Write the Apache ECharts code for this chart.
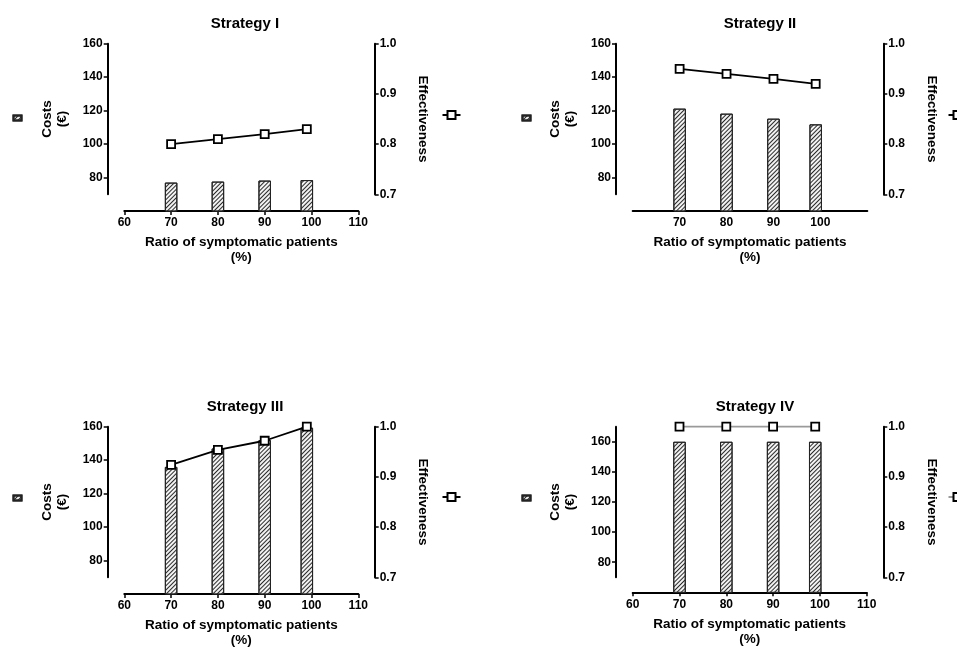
<!DOCTYPE html>
<html><head><meta charset="utf-8">
<script src="https://cdn.jsdelivr.net/npm/echarts@6/dist/echarts.min.js"></script>
<style>html,body{margin:0;padding:0;background:#fff}#c{width:957px;height:650px}</style>
</head><body><div id="c"></div>
<script>
// ---- data ----
const xPositions = [70, 80, 90, 99];
const xTickLabels = [60, 70, 80, 90, 100, 110];
const xTickLabelsII = [70, 80, 90, 100];
const costTickLabels = [80, 100, 120, 140, 160];
const titles = ['Strategy I', 'Strategy II', 'Strategy III', 'Strategy IV'];
const romans = ['I', 'II', 'III', 'IV'];
const costsI = [77, 77.6, 78.2, 78.5];
const costsII = [121.2, 118.2, 115.2, 111.8];
const costsIII = [136, 147, 152, 159.4];
const costsIV = [160, 160, 160, 160];
const effI = [0.80, 0.81, 0.82, 0.83];
const effII = [0.95, 0.94, 0.93, 0.92];
const effIII = [0.924, 0.954, 0.972, 1.0];
const effIV = [1.0, 1.0, 1.0, 1.0];
const xAxisTitle = 'Ratio of symptomatic patients\n(%)';
const costAxisTitle = 'Costs\n(\u20ac)';
const effAxisTitle = 'Effectiveness';

// ---- layout ----
const FONT = '"Liberation Sans", Arial, sans-serif';
const layouts = [
  {x0:124.3, x1:358.3, top:43.7, axBottom:194.3, leftX:107.7, rightX:374.7, cMax:160, xLabels:xTickLabels, xTicks:true, titleX:240, titleY:11, legL:[12.5,114.5], legR:[441.5,110]},
  {x0:632.7, x1:867.3, top:43.7, axBottom:194.3, leftX:616, rightX:883.3, cMax:160, xLabels:xTickLabelsII, xTicks:false, titleX:755, titleY:11, legL:[521.5,114.5], legR:[947.5,110]},
  {x0:124.3, x1:358.3, top:426.7, axBottom:577.3, leftX:107.7, rightX:374.7, cMax:160, xLabels:xTickLabels, xTicks:true, titleX:240, titleY:394, legL:[12.5,494.5], legR:[441.5,492]},
  {x0:632.7, x1:866.7, top:426.7, axBottom:577.3, leftX:616, rightX:883.3, cMax:170, xLabels:xTickLabels, xTicks:true, titleX:750, titleY:394, legL:[521.5,494.5], legR:[947.5,492]}
];
const costSets = [costsI, costsII, costsIII, costsIV];
const effSets = [effI, effII, effIII, effIV];
const lineColors = ['#000', '#000', '#000', '#9a9a9a'];

const lblStyle = {color:'#000', fontFamily:FONT, fontWeight:'bold', fontSize:12};
const nameStyle = {color:'#000', fontFamily:FONT, fontWeight:'bold', fontSize:13.5, lineHeight:15};
const axLine = {show:true, lineStyle:{color:'#000', width:2}};
const tickStyle = {color:'#000', width:1.5};
const hatch = {symbol:'rect', symbolSize:1, dashArrayX:[1,0], dashArrayY:[1,2], rotation:-Math.PI/4, color:'#2a2a2a'};

const grids = [], xAxes = [], yAxes = [], series = [], legends = [], titleComps = [];
layouts.forEach((L, i) => {
  const gA = i*2, gB = i*2+1;
  const w = L.x1 - L.x0;
  const hB = L.axBottom - L.top;
  const hA = hB * (L.cMax - 60) / (L.cMax - 70);
  grids.push({left:L.x0, top:L.top, width:w, height:hA});
  grids.push({left:L.x0, top:L.top, width:w, height:hB});
  xAxes.push({type:'value', gridIndex:gA, min:60, max:110, interval:10,
    axisLine:axLine, axisTick:{show:L.xTicks, length:4, lineStyle:tickStyle},
    axisLabel:Object.assign({margin:6, customValues:L.xLabels}, lblStyle),
    splitLine:{show:false},
    name:xAxisTitle, nameLocation:'middle', nameGap:24, nameTextStyle:nameStyle});
  xAxes.push({type:'value', gridIndex:gB, min:60, max:110, show:false});
  yAxes.push({type:'value', gridIndex:gA, min:60, max:L.cMax, show:false});
  yAxes.push({type:'value', gridIndex:gB, position:'left', min:70, max:L.cMax, offset:L.x0-L.leftX,
    axisLine:axLine, axisTick:{show:true, length:4, customValues:costTickLabels, lineStyle:tickStyle},
    axisLabel:Object.assign({margin:5, customValues:costTickLabels}, lblStyle),
    splitLine:{show:false},
    name:costAxisTitle, nameLocation:'middle', nameRotate:90, nameGap:38, nameTextStyle:nameStyle});
  yAxes.push({type:'value', gridIndex:gB, position:'right', min:0.7, max:1.0, interval:0.1, offset:L.rightX-L.x1,
    axisLine:axLine, axisTick:{show:true, length:4, lineStyle:tickStyle},
    axisLabel:Object.assign({margin:5, formatter:v => v.toFixed(1)}, lblStyle),
    splitLine:{show:false},
    name:effAxisTitle, nameLocation:'middle', nameRotate:-90, nameGap:41, nameTextStyle:nameStyle});
  const costs = costSets[i], eff = effSets[i];
  series.push({type:'bar', name:'Costs ' + romans[i], xAxisIndex:gA, yAxisIndex:i*3,
    data:xPositions.map((x, k) => [x, costs[k]]), barWidth:12.5,
    itemStyle:{color:'#f2f2f2', borderColor:'#222', borderWidth:1, decal:hatch}});
  series.push({type:'line', name:'Effectiveness ' + romans[i], xAxisIndex:gB, yAxisIndex:i*3+2,
    data:xPositions.map((x, k) => [x, eff[k]]), symbol:'rect', symbolSize:8, clip:false, z:5,
    lineStyle:{color:lineColors[i], width:1.8},
    itemStyle:{color:'#fff', borderColor:'#000', borderWidth:1.8}});
  legends.push({left:L.legL[0], top:L.legL[1], data:[{name:'Costs ' + romans[i], icon:'rect'}], itemWidth:8, itemHeight:5,
    formatter:() => '', selectedMode:false, padding:0, itemGap:0, textStyle:{fontSize:1}});
  legends.push({left:L.legR[0], top:L.legR[1], data:['Effectiveness ' + romans[i]], itemWidth:18, itemHeight:10,
    formatter:() => '', selectedMode:false, padding:0, itemGap:0, textStyle:{fontSize:1}});
  titleComps.push({text:titles[i], left:L.titleX, top:L.titleY, textAlign:'center',
    textStyle:{color:'#000', fontFamily:FONT, fontWeight:'bold', fontSize:15}});
});

const chart = echarts.init(document.getElementById('c'), null, {renderer:'canvas'});
chart.setOption({animation:false, backgroundColor:'#fff', title:titleComps, grid:grids,
  xAxis:xAxes, yAxis:yAxes, legend:legends, series:series});
</script></body></html>
